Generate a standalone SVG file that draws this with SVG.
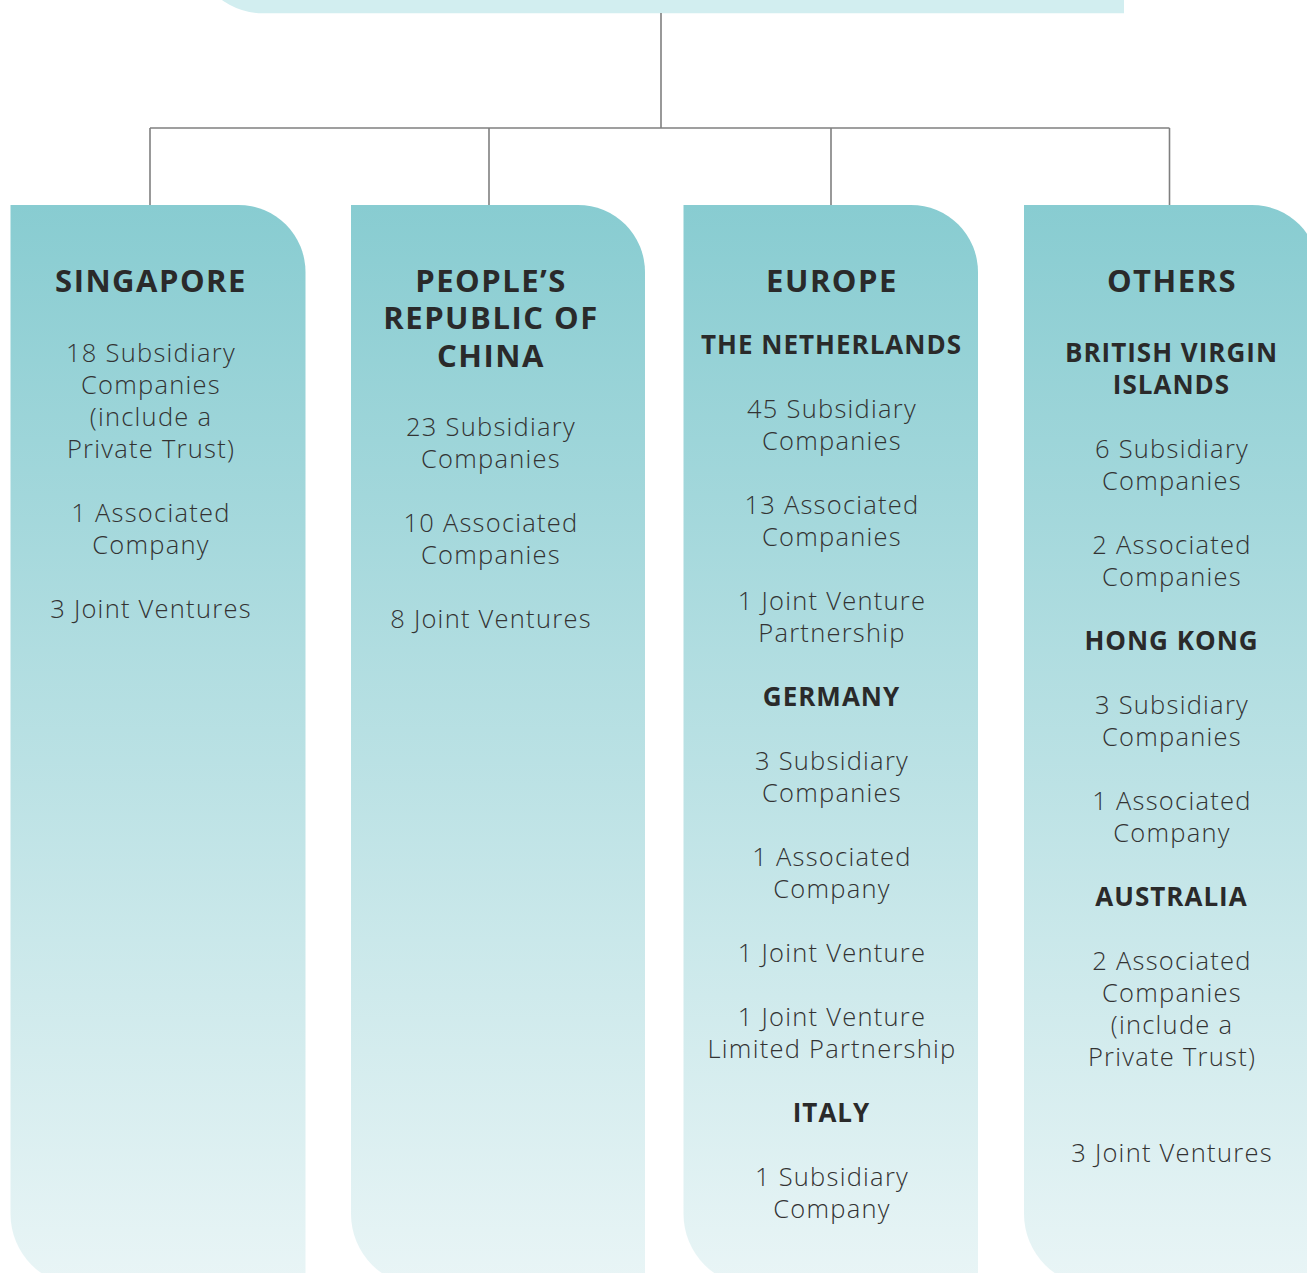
<svg xmlns="http://www.w3.org/2000/svg" width="1307" height="1273" viewBox="0 0 1307 1273">
<defs>
<linearGradient id="colGrad" gradientUnits="userSpaceOnUse" x1="0" y1="205" x2="0" y2="1285">
<stop offset="0" stop-color="#88ccd1"/>
<stop offset="1" stop-color="#e9f5f6"/>
</linearGradient>
<style>
.col{fill:url(#colGrad);}
.top{fill:#d2eef0;}
.conn{stroke:#7f7f7f;stroke-width:1.6;fill:none;}
text{font-family:"Open Sans","Noto Sans","Liberation Sans",sans-serif;text-anchor:middle;}
.h1{font-size:31px;font-weight:700;fill:#2a2a2a;letter-spacing:1.5px;}
.h2{font-size:26px;font-weight:700;fill:#2a2a2a;letter-spacing:1px;}
.b{font-size:25.5px;font-weight:300;fill:#333333;letter-spacing:1.25px;}
</style>
</defs>
<rect width="1307" height="1273" fill="#ffffff"/>
<g id="top-node">
<path class="top" d="M193,-120 H1124 V13.3 H263 A70,70 0 0 1 193,-56.7 Z"/>
</g>
<g id="connectors">
<line class="conn" x1="661" y1="13" x2="661" y2="128"/>
<line class="conn" x1="150" y1="128" x2="1169.5" y2="128"/>
<line class="conn" x1="150" y1="128" x2="150" y2="205"/>
<line class="conn" x1="489" y1="128" x2="489" y2="205"/>
<line class="conn" x1="831" y1="128" x2="831" y2="205"/>
<line class="conn" x1="1169.5" y1="128" x2="1169.5" y2="205"/>
</g>
<g id="singapore">
<path class="col" d="M10.5,205 H238.5 A67,67 0 0 1 305.5,272 V1286 H82.5 A72,72 0 0 1 10.5,1214 Z"/>
<text class="h1" x="151" y="291.5">SINGAPORE</text>
<text class="b" x="151" y="362">18 Subsidiary</text>
<text class="b" x="151" y="394">Companies</text>
<text class="b" x="151" y="426">(include a</text>
<text class="b" x="151" y="458">Private Trust)</text>
<text class="b" x="151" y="522">1 Associated</text>
<text class="b" x="151" y="554">Company</text>
<text class="b" x="151" y="618">3 Joint Ventures</text>
</g>
<g id="prc">
<path class="col" d="M351,205 H578 A67,67 0 0 1 645,272 V1286 H423 A72,72 0 0 1 351,1214 Z"/>
<text class="h1" x="491" y="291.5">PEOPLE’S</text>
<text class="h1" x="491" y="329">REPUBLIC OF</text>
<text class="h1" x="491" y="366.5">CHINA</text>
<text class="b" x="491" y="436">23 Subsidiary</text>
<text class="b" x="491" y="468">Companies</text>
<text class="b" x="491" y="532">10 Associated</text>
<text class="b" x="491" y="564">Companies</text>
<text class="b" x="491" y="628">8 Joint Ventures</text>
</g>
<g id="europe">
<path class="col" d="M683.5,205 H911 A67,67 0 0 1 978,272 V1286 H755.5 A72,72 0 0 1 683.5,1214 Z"/>
<text class="h1" x="832" y="291.5">EUROPE</text>
<text class="h2" x="831.5" y="353.5">THE NETHERLANDS</text>
<text class="b" x="832" y="418">45 Subsidiary</text>
<text class="b" x="832" y="450">Companies</text>
<text class="b" x="832" y="514">13 Associated</text>
<text class="b" x="832" y="546">Companies</text>
<text class="b" x="832" y="610">1 Joint Venture</text>
<text class="b" x="832" y="642">Partnership</text>
<text class="h2" x="831.5" y="705.5">GERMANY</text>
<text class="b" x="832" y="770">3 Subsidiary</text>
<text class="b" x="832" y="802">Companies</text>
<text class="b" x="832" y="866">1 Associated</text>
<text class="b" x="832" y="898">Company</text>
<text class="b" x="832" y="962">1 Joint Venture</text>
<text class="b" x="832" y="1026">1 Joint Venture</text>
<text class="b" x="832" y="1058">Limited Partnership</text>
<text class="h2" x="831.5" y="1121.5">ITALY</text>
<text class="b" x="832" y="1186">1 Subsidiary</text>
<text class="b" x="832" y="1218">Company</text>
</g>
<g id="others">
<path class="col" d="M1024,205 H1252 A67,67 0 0 1 1319,272 V1286 H1096 A72,72 0 0 1 1024,1214 Z"/>
<text class="h1" x="1172" y="291.5">OTHERS</text>
<text class="h2" x="1171.5" y="361.5">BRITISH VIRGIN</text>
<text class="h2" x="1171.5" y="393.5">ISLANDS</text>
<text class="b" x="1172" y="458">6 Subsidiary</text>
<text class="b" x="1172" y="490">Companies</text>
<text class="b" x="1172" y="554">2 Associated</text>
<text class="b" x="1172" y="586">Companies</text>
<text class="h2" x="1171.5" y="649.5">HONG KONG</text>
<text class="b" x="1172" y="714">3 Subsidiary</text>
<text class="b" x="1172" y="746">Companies</text>
<text class="b" x="1172" y="810">1 Associated</text>
<text class="b" x="1172" y="842">Company</text>
<text class="h2" x="1171.5" y="905.5">AUSTRALIA</text>
<text class="b" x="1172" y="970">2 Associated</text>
<text class="b" x="1172" y="1002">Companies</text>
<text class="b" x="1172" y="1034">(include a</text>
<text class="b" x="1172" y="1066">Private Trust)</text>
<text class="b" x="1172" y="1162">3 Joint Ventures</text>
</g>
</svg>
